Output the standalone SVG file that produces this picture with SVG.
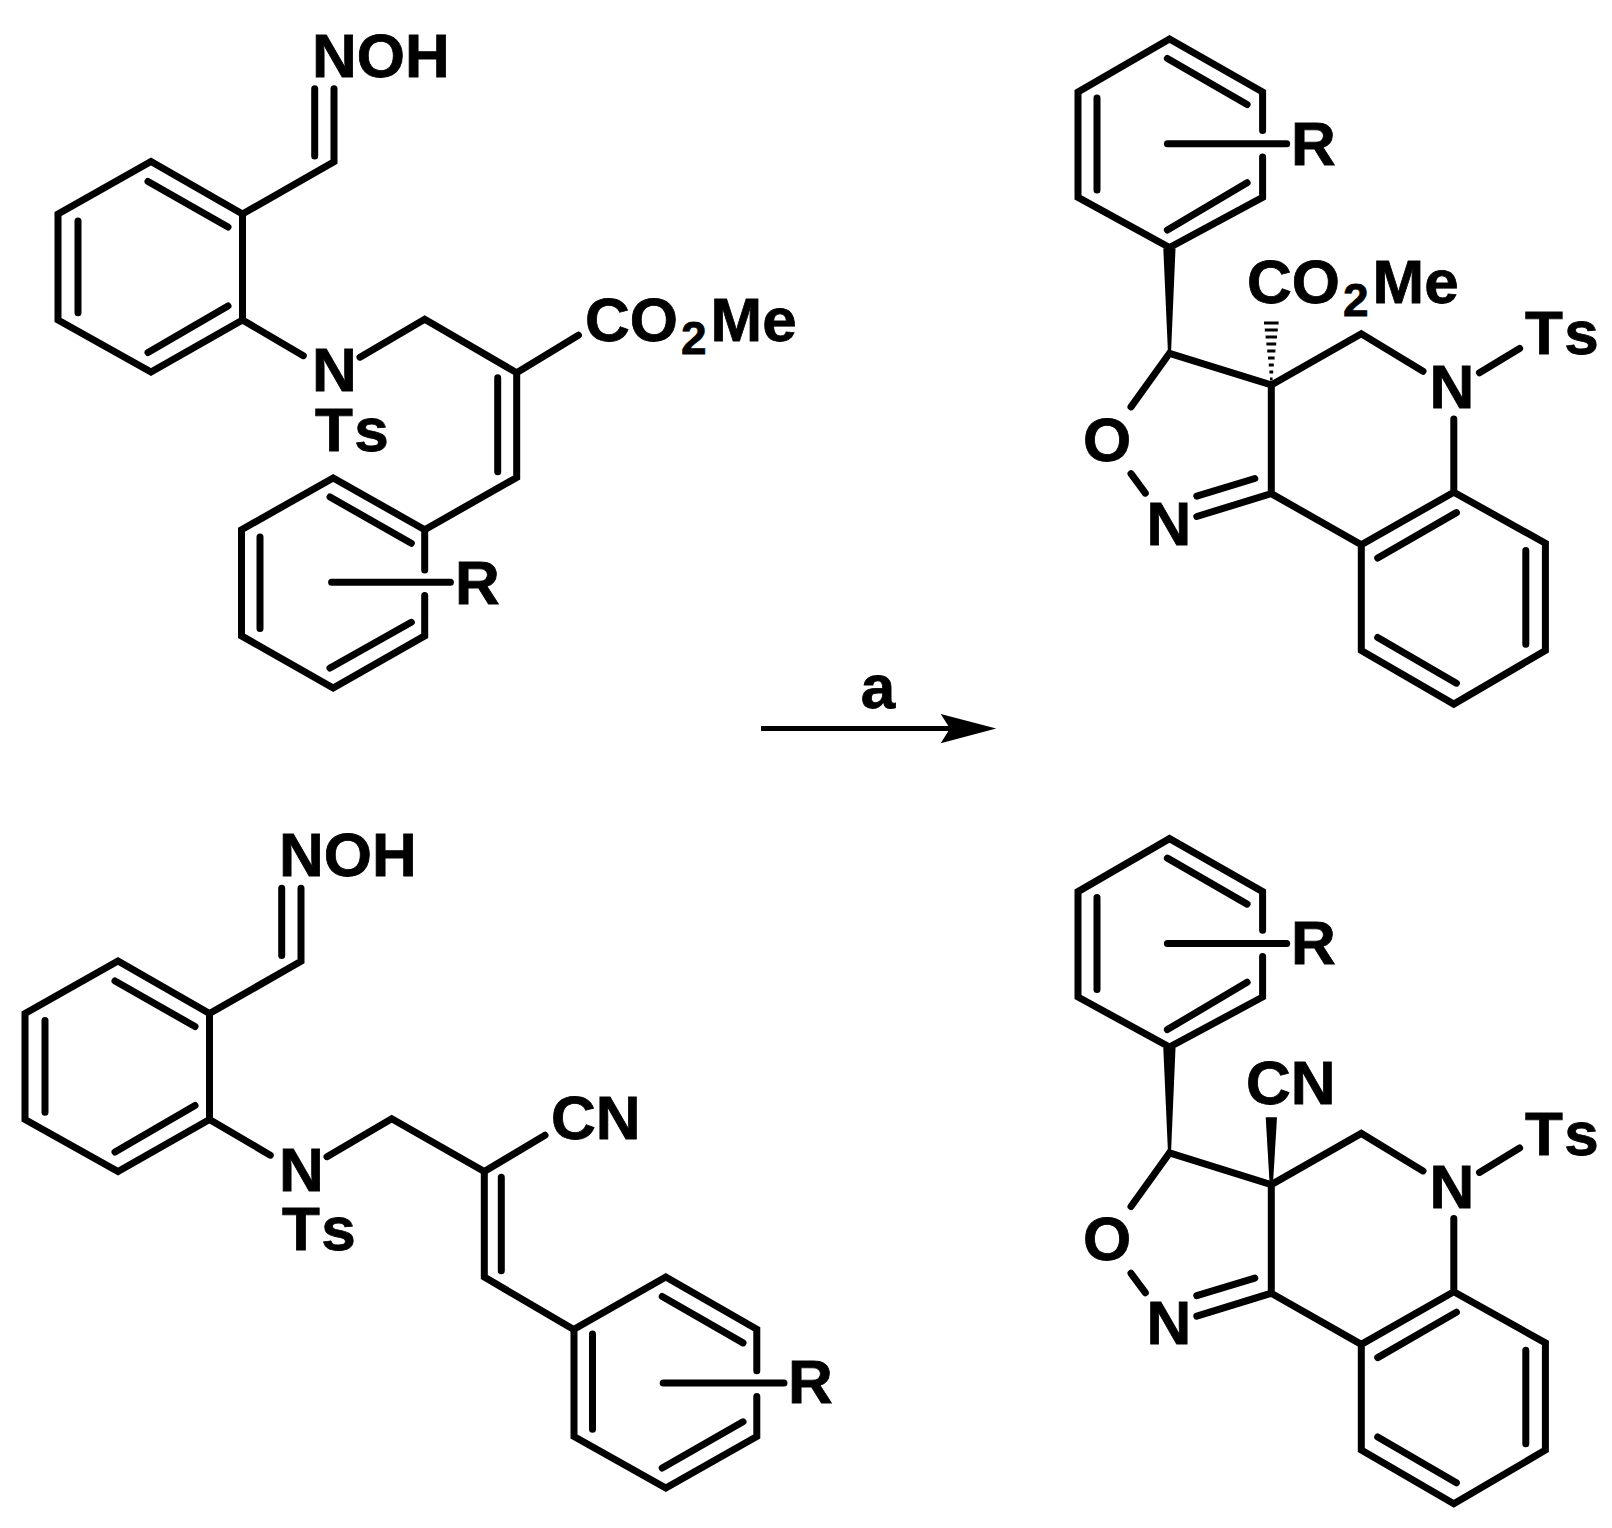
<svg xmlns="http://www.w3.org/2000/svg" width="1612" height="1528" viewBox="0 0 1612 1528">
<style>
.b{fill:none;stroke:#000;stroke-width:7;stroke-linecap:round;stroke-linejoin:miter}
.h{fill:none;stroke:#000;stroke-width:3}
.f{fill:#000;stroke:none}
text{font-family:"Liberation Sans",Arial,sans-serif;font-weight:700;font-size:62px;fill:#000;stroke:#000;stroke-width:.8}
.m{text-anchor:middle}
.s{font-size:46px}
.t{letter-spacing:6px}
</style>
<rect width="1612" height="1528" fill="#fff"/>
<g id="reactant-ester">
<path class="b" d="M151 161.5L242.5 214V320L151 372L58 320V214ZM148 181.5L228 227M78 221V312.8M148 352.5L228 306M242.5 214L334 161.8V88.7M314.7 88.7V155.9M242.5 320L303.3 355.7M360 357.2L424.7 319.2L516.7 372.8L578.4 335.3M516.7 372.8V477.5L424.7 529.7M497.7 377.7V471.7"/>
<path class="b" d="M424.7 570.1V529.7L333.2 478L241.5 529.7V635.9L333.2 688L424.7 635.9V595.5M330 497L411.3 543.3M260 537V628.6M330 668L411.3 622.3M331.6 582.3H450.4"/>
<text x="312" y="76.5">NOH</text>
<text x="312" y="391.3">N</text>
<text class="t" x="315" y="450.8">Ts</text>
<text x="585" y="340.5">CO<tspan class="s" dx="3" dy="13">2</tspan><tspan dx="4" dy="-13">Me</tspan></text>
<text x="455" y="604.2">R</text>
</g>
<g id="reactant-nitrile">
<g transform="translate(-33 799.5)">
<path class="b" d="M151 161.5L242.5 214V320L151 372L58 320V214ZM148 181.5L228 227M78 221V312.8M148 352.5L228 306M242.5 214L334 161.8V88.7M314.7 88.7V155.9M242.5 320L303.3 355.7M360 357.2L424.7 319.2L517.3 372"/>
<text x="312" y="76.5">NOH</text>
<text x="312" y="391.3">N</text>
<text class="t" x="315" y="450.8">Ts</text>
</g>
<path class="b" d="M545 1135.3L484.3 1171.5V1277.1L573.3 1329.3M501.3 1177.2V1270.8"/>
<path class="b" d="M756.8 1370.7V1329.3L665.8 1277L574 1329.3V1436.5L665.8 1488L756.8 1436.5V1396.5M662.2 1296.5L743 1342.9M592.5 1334.1V1429.2M662.2 1468L743 1421.8M663.2 1382.9H784"/>
<text x="551" y="1139.2">CN</text>
<text x="788" y="1403">R</text>
</g>
<g id="product-ester">
<path class="b" d="M1262.6 130.6V92L1169.5 39L1078 92V197.4L1169.5 247.5L1262.6 197.4V156.9M1167.4 58.5L1247.1 104.5M1097 98V190M1167.4 230L1247.1 182.7M1167.4 143.8H1286.7"/>
<path class="f" d="M1163.3 248.5H1175.5L1171 353.3H1168Z"/>
<path class="b" d="M1131 406.9L1169.5 353.3L1271.3 385V493.6L1196.8 516.5M1254.8 478.5L1196.8 496.1M1131 473.7L1145.3 493.1M1271.3 493.6L1361.3 544.8L1453.8 492.2L1545.4 543.3V650.5L1453.8 704.1L1361.3 650.5V544.8M1377.7 558L1456.4 512.6M1525.8 550.6V644.2M1377.7 637.4L1456.4 683.2M1453.8 492.2V419M1271.3 385L1361.3 333.8L1423 371.3M1479.5 372.8L1519.6 348.4"/>
<path class="h" d="M1264 323H1278.6M1264.8 330H1277.8M1265.6 337H1277M1266.4 344H1276.2M1267.2 351H1275.4M1268 358H1274.6M1268.8 365H1273.8M1269.4 372H1273.2M1270 379H1272.6"/>
<text x="1291" y="164.5">R</text>
<text class="m" x="1107" y="460.5">O</text>
<text class="m" x="1169" y="544.8">N</text>
<text class="m" x="1452" y="408.4">N</text>
<text class="t" x="1525" y="354.3">Ts</text>
<text x="1247" y="302.5">CO<tspan class="s" dx="3" dy="13">2</tspan><tspan dx="4" dy="-13">Me</tspan></text>
</g>
<g id="product-nitrile">
<g transform="translate(0 799.6)">
<path class="b" d="M1262.6 130.6V92L1169.5 39L1078 92V197.4L1169.5 247.5L1262.6 197.4V156.9M1167.4 58.5L1247.1 104.5M1097 98V190M1167.4 230L1247.1 182.7M1167.4 143.8H1286.7"/>
<path class="f" d="M1163.3 248.5H1175.5L1171 353.3H1168Z"/>
<path class="b" d="M1131 406.9L1169.5 353.3L1271.3 385V493.6L1196.8 516.5M1254.8 478.5L1196.8 496.1M1131 473.7L1145.3 493.1M1271.3 493.6L1361.3 544.8L1453.8 492.2L1545.4 543.3V650.5L1453.8 704.1L1361.3 650.5V544.8M1377.7 558L1456.4 512.6M1525.8 550.6V644.2M1377.7 637.4L1456.4 683.2M1453.8 492.2V419M1271.3 385L1361.3 333.8L1423 371.3M1479.5 372.8L1519.6 348.4"/>
<text x="1291" y="164.5">R</text>
<text class="m" x="1107" y="460.5">O</text>
<text class="m" x="1169" y="544.8">N</text>
<text class="m" x="1452" y="408.4">N</text>
<text class="t" x="1525" y="355.5">Ts</text>
</g>
<path class="f" d="M1265.7 1117.3H1277L1272.8 1187H1269.8Z"/>
<text x="1246" y="1103.6">CN</text>
</g>
<g id="connectors">
<path d="M761 728.5H955" fill="none" stroke="#000" stroke-width="5"/>
<path class="f" d="M996.2 728.5L940.7 713.9L950 728.5L940.7 743.2Z"/>
<text class="m" x="878" y="707.6">a</text>
</g>
</svg>
